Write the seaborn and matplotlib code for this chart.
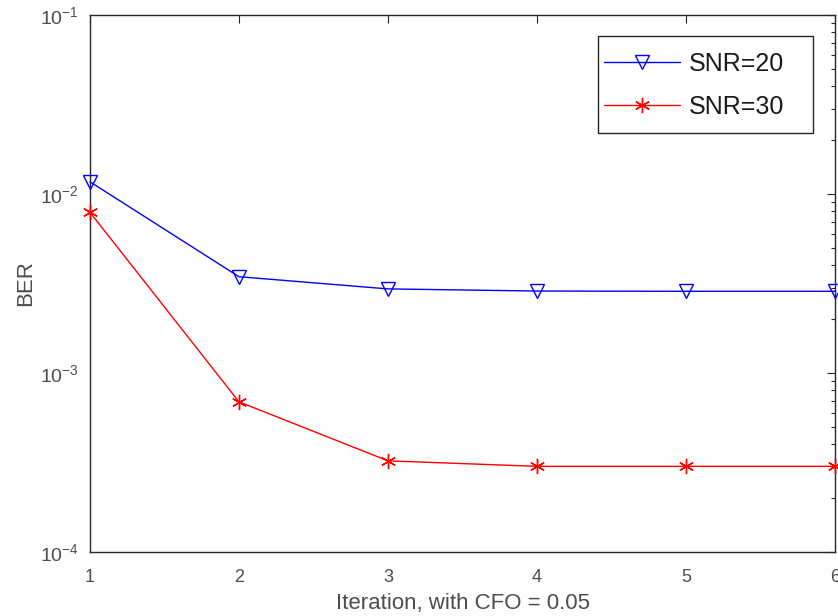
import matplotlib
matplotlib.use("Agg")
import matplotlib.pyplot as plt
import matplotlib.patches as mpatches
import seaborn as sns
import pandas as pd
import numpy as np
from matplotlib.ticker import LogLocator, FixedLocator, NullFormatter
from matplotlib.lines import Line2D

iterations = [1, 2, 3, 4, 5, 6]
ber_snr20 = [0.0117, 0.00345, 0.00295, 0.00287, 0.00286, 0.00286]
ber_snr30 = [0.0079, 0.00069, 0.000323, 0.000301, 0.000301, 0.000301]
series_labels = ["SNR=20", "SNR=30"]
x_tick_labels = ["1", "2", "3", "4", "5", "6"]

sns.set_style("white")
plt.rcParams['font.family'] = ['Liberation Sans', 'DejaVu Sans']
plt.rcParams['mathtext.fontset'] = 'custom'
plt.rcParams['mathtext.rm'] = 'Liberation Sans'
plt.rcParams['mathtext.it'] = 'Liberation Sans'
plt.rcParams['mathtext.default'] = 'regular'

W, H = 838, 616
fig = plt.figure(figsize=(W/100, H/100), dpi=100)
ax = fig.add_axes([90/W, 1-552/H, (835-90)/W, (552-15)/H])

df20 = pd.DataFrame({"it": iterations, "ber": ber_snr20})
df30 = pd.DataFrame({"it": iterations, "ber": ber_snr30})

sns.lineplot(data=df20, x="it", y="ber", ax=ax, color="#0000ff", lw=1.0,
             marker="v", markersize=10, markerfacecolor="none",
             markeredgecolor="#0000ff", markeredgewidth=1.0,
             zorder=3, clip_on=False)
sns.lineplot(data=df30, x="it", y="ber", ax=ax, color="#ff0000", lw=1.0,
             marker=(6, 2, 0), markersize=11, markeredgecolor="#ff0000",
             markeredgewidth=1.0, zorder=3, clip_on=False)

ax.set_yscale("log")
ax.set_xlim(1, 6)
ax.set_ylim(1e-4, 1e-1)
ax.set_xticks(iterations)
ax.set_xticklabels(x_tick_labels)
ax.yaxis.set_major_locator(FixedLocator([1e-4, 1e-3, 1e-2, 1e-1]))
ax.set_yticklabels([r"$10^{-4}$", r"$10^{-3}$", r"$10^{-2}$", r"$10^{-1}$"])
ax.yaxis.set_minor_locator(LogLocator(base=10, subs=np.arange(2, 10), numticks=20))
ax.yaxis.set_minor_formatter(NullFormatter())

for s in ax.spines.values():
    s.set_color("#262626")
    s.set_linewidth(1.0)
ax.tick_params(axis="both", which="both", direction="in", top=True, right=True,
               colors="#262626", labelcolor="#4d4d4d", width=0.8)
ax.tick_params(axis="x", which="major", length=6, labelsize=13, pad=12)
ax.tick_params(axis="y", which="major", length=6, labelsize=14, pad=8)
ax.tick_params(axis="y", which="minor", length=3)

ax.set_xlabel("Iteration, with CFO = 0.05", fontsize=16, color="#4d4d4d", labelpad=5)
ax.set_ylabel("BER", fontsize=16, color="#4d4d4d", labelpad=3)

# legend (MATLAB-like box with wide right padding)
h1 = Line2D([], [], color="#0000ff", lw=1.0, marker="v", ms=10, mfc="none", mec="#0000ff")
h2 = Line2D([], [], color="#ff0000", lw=1.0, marker=(6, 2, 0), ms=11, mec="#ff0000")
leg = ax.legend([h1, h2], series_labels, loc="upper left",
                bbox_to_anchor=(604/W, 1-52/H), bbox_transform=fig.transFigure,
                fontsize=18, frameon=False,
                handlelength=3.05, borderpad=0.0, labelspacing=0.75, handletextpad=0.35,
                borderaxespad=0)
for t in leg.get_texts():
    t.set_color("#1a1a1a")
frame = mpatches.Rectangle((598/W, 1-133/H), (813-598)/W, (133-36)/H,
                           transform=fig.transFigure, fill=True, facecolor="white",
                           edgecolor="#262626", lw=1.0, zorder=4)
ax.add_artist(frame)
frame.set_clip_on(False)
leg.set_zorder(5)

fig.savefig("out.png", dpi=100)
